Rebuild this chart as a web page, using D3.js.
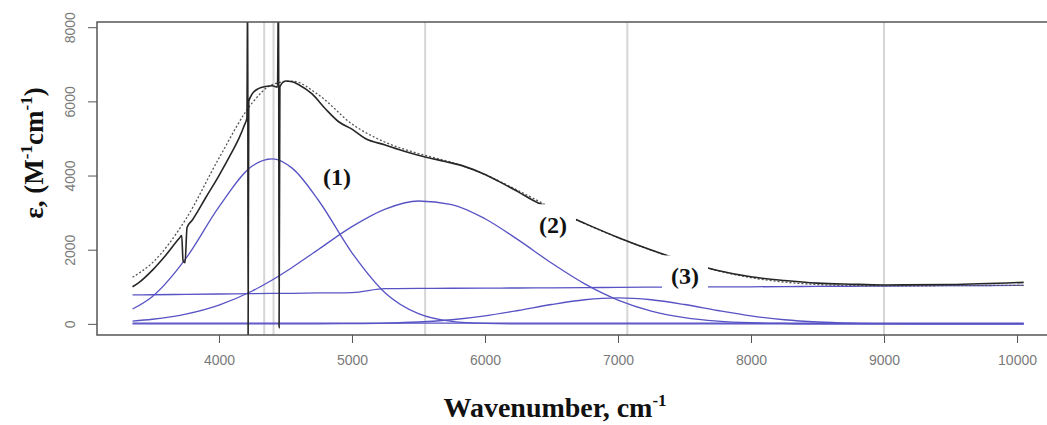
<!DOCTYPE html>
<html>
<head>
<meta charset="utf-8">
<script src="https://cdn.jsdelivr.net/npm/d3@7"></script>
<style>
  body { margin: 0; background: #fff; }
  svg { display: block; }
</style>
</head>
<body>
<div id="chart"></div>
<script>
// grid for the fitted components
const waveGrid = [3350, 3500, 3750, 4000, 4250, 4400, 4550, 4750, 5000, 5250, 5500, 5750, 6000, 6250,
  6500, 6750, 7000, 7250, 7500, 7750, 8000, 8250, 8500, 8750, 9000, 9500, 10050];
const band1 = [400, 741, 1760, 3155, 4257, 4450, 4200, 3320, 1917, 835, 274, 67, 12, 0,
  0, 0, 0, 0, 0, 0, 0, 0, 0, 0, 0, 0, 0];
const band2 = [76, 125, 264, 508, 886, 1182, 1520, 2014, 2622, 3094, 3313, 3218, 2835, 2264,
  1640, 1078, 642, 347, 170, 76, 30, 11, 0, 0, 0, 0, 0];
const band3 = [0, 0, 0, 0, 0, 0, 0, 2, 6, 19, 50, 111, 216, 361,
  522, 650, 700, 650, 522, 361, 216, 111, 50, 19, 6, 0, 0];
const baseline = [780, 785, 795, 805, 815, 820, 825, 835, 845, 950, 955, 960, 965, 968,
  970, 975, 985, 990, 995, 998, 1000, 1005, 1010, 1015, 1020, 1030, 1040];
const fitSum = [1256, 1651, 2819, 4468, 5958, 6452, 6545, 6171, 5390, 4898, 4592, 4356, 4028, 3593,
  3132, 2703, 2327, 1987, 1687, 1435, 1246, 1127, 1060, 1034, 1026, 1030, 1040];
const zeroX = [3350, 10050];
const zeroY = [20, 20];

// measured spectrum
const expX = [3350, 3400, 3500, 3600, 3700, 3720, 3730, 3745, 3760, 3800, 3900, 4000, 4100, 4150, 4190, 4210,
  4216, 4219, 4224, 4250, 4300, 4350, 4400, 4440, 4448, 4452, 4458, 4500, 4550, 4600, 4700, 4800, 4900,
  5000, 5100, 5250, 5400, 5550, 5700, 5850, 6000, 6100, 6250, 6400, 6500, 6600, 6750, 7000, 7250,
  7500, 7750, 8000, 8250, 8500, 8750, 9000, 9500, 10050];
const expY = [1000, 1120, 1450, 1850, 2300, 2380, 1700, 1650, 2600, 2800, 3400, 4000, 4650, 5000, 5350, 5550,
  9500, -500, 6000, 6200, 6350, 6400, 6420, 6380, 9500, -100, 6400, 6550, 6530, 6450, 6200, 5800, 5450,
  5250, 5000, 4825, 4650, 4500, 4380, 4240, 4030, 3850, 3560, 3260, 3130, 2950, 2710, 2330, 1990,
  1690, 1440, 1270, 1170, 1100, 1070, 1050, 1060, 1120];

const markerLines = [4340, 4410, 5550, 7070, 9000];
const xTicks = [4000, 5000, 6000, 7000, 8000, 9000, 10000];
const yTicks = [0, 2000, 4000, 6000, 8000];
const labelText = ["(1)", "(2)", "(3)"];
const labelX = [4887, 6511, 7504];
const labelY = [3960, 2670, 1290];
const labelBox = [false, true, true];

var width = 1047, height = 425;
var pLeft = 97, pRight = 1060, pTop = 22, pBottom = 335;

var svg = d3.select("#chart").append("svg")
    .attr("width", width)
    .attr("height", height);

var x = d3.scaleLinear().domain([3083, 10323]).range([pLeft, pRight]);
var y = d3.scaleLinear().domain([-300, 8140]).range([pBottom, pTop]);

svg.append("clipPath").attr("id", "plotclip")
  .append("rect")
    .attr("x", pLeft).attr("y", pTop)
    .attr("width", pRight - pLeft).attr("height", pBottom - pTop);

var plot = svg.append("g").attr("clip-path", "url(#plotclip)");

// light grey marker lines
plot.append("g")
  .selectAll("line")
  .data(markerLines)
  .join("line")
    .attr("x1", d => x(d)).attr("x2", d => x(d))
    .attr("y1", pTop).attr("y2", pBottom)
    .attr("stroke", "#d6d6d6")
    .attr("stroke-width", 2);

var blue = "#5853c4";

function gridLine(vals) {
  return d3.line()
    .x((d, i) => x(waveGrid[i]))
    .y(d => y(d))
    .curve(d3.curveMonotoneX)(vals);
}

[band1, band2, band3, baseline].forEach(vals => {
  plot.append("path")
    .attr("d", gridLine(vals))
    .attr("fill", "none")
    .attr("stroke", blue)
    .attr("stroke-width", 1.3);
});

plot.append("path")
  .attr("d", d3.line().x(d => x(d)).y((d, i) => y(zeroY[i]))(zeroX))
  .attr("fill", "none")
  .attr("stroke", blue)
  .attr("stroke-width", 1.3);

// fitted sum, dotted
plot.append("path")
  .attr("d", gridLine(fitSum))
  .attr("fill", "none")
  .attr("stroke", "#555")
  .attr("stroke-width", 1.3)
  .attr("stroke-dasharray", "2,2");

// experiment
plot.append("path")
  .attr("d", d3.line().x(d => x(d)).y((d, i) => y(expY[i])).curve(d3.curveMonotoneX)(expX))
  .attr("fill", "none")
  .attr("stroke", "#262626")
  .attr("stroke-width", 1.6);

// peak labels, (2) and (3) sit on white boxes
var lab = svg.append("g");
labelText.forEach((t, i) => {
  var g = lab.append("g");
  var txt = g.append("text")
    .attr("x", x(labelX[i]))
    .attr("y", y(labelY[i]))
    .attr("text-anchor", "middle")
    .attr("dy", "0.35em")
    .attr("font-family", "'Liberation Serif', 'Times New Roman', serif")
    .attr("font-weight", "bold")
    .attr("font-size", 24)
    .attr("fill", "#111")
    .text(t);
  if (!labelBox[i]) return;
  var b = txt.node().getBBox();
  g.insert("rect", "text")
    .attr("x", b.x - 9).attr("y", b.y - 8)
    .attr("width", b.width + 18).attr("height", b.height + 14)
    .attr("fill", "#fff");
});

// frame
svg.append("rect")
  .attr("x", pLeft).attr("y", pTop)
  .attr("width", pRight - pLeft).attr("height", pBottom - pTop)
  .attr("fill", "none")
  .attr("stroke", "#555")
  .attr("stroke-width", 1.5);

// axes
var xa = svg.append("g").attr("transform", `translate(0,${pBottom})`)
  .call(d3.axisBottom(x).tickValues(xTicks).tickSize(8).tickFormat(d3.format("d")));
var ya = svg.append("g").attr("transform", `translate(${pLeft},0)`)
  .call(d3.axisLeft(y).tickValues(yTicks).tickSize(9).tickFormat(d3.format("d")));
[xa, ya].forEach(a => {
  a.select(".domain").remove();
  a.selectAll(".tick line").attr("stroke", "#555");
  a.selectAll(".tick text")
    .attr("fill", "#7a7a7a")
    .attr("font-size", 14)
    .attr("font-family", "'Liberation Sans', Arial, sans-serif");
});
xa.selectAll(".tick text").attr("y", 20).attr("dy", "0.71em");
ya.selectAll(".tick text")
  .attr("x", null).attr("dy", null)
  .attr("text-anchor", "middle")
  .attr("transform", "translate(-22,0) rotate(-90)");

// titles
var xt = svg.append("text")
  .attr("x", 555).attr("y", 417)
  .attr("text-anchor", "middle")
  .attr("font-family", "'Liberation Serif', 'Times New Roman', serif")
  .attr("font-weight", "bold")
  .attr("font-size", 28)
  .attr("fill", "#111");
xt.append("tspan").text("Wavenumber, cm");
xt.append("tspan").attr("font-size", 17).attr("dy", -11).text("-1");

var yt = svg.append("text")
  .attr("transform", "translate(43,153) rotate(-90)")
  .attr("text-anchor", "middle")
  .attr("font-family", "'Liberation Serif', 'Times New Roman', serif")
  .attr("font-weight", "bold")
  .attr("font-size", 27)
  .attr("fill", "#111");
yt.append("tspan").text("ε, (M");
yt.append("tspan").attr("font-size", 17).attr("dy", -11).text("-1");
yt.append("tspan").attr("dy", 11).text("cm");
yt.append("tspan").attr("font-size", 17).attr("dy", -11).text("-1");
yt.append("tspan").attr("dy", 11).text(")");
</script>
</body>
</html>
